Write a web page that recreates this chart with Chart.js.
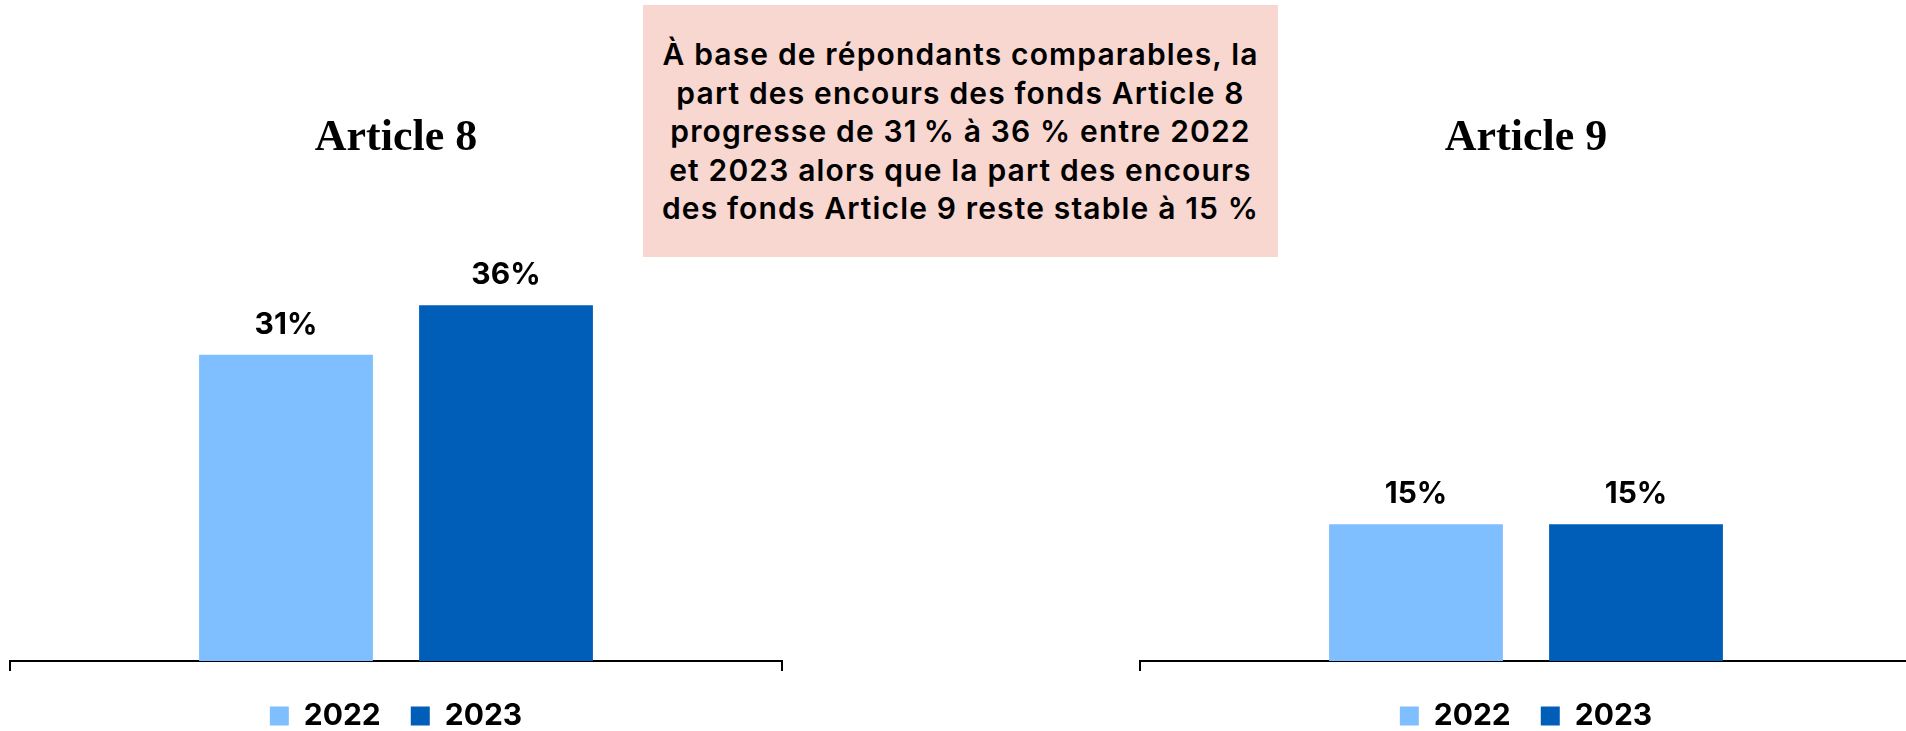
<!DOCTYPE html>
<html lang="fr">
<head>
<meta charset="utf-8">
<script src="https://cdn.jsdelivr.net/npm/chart.js@4.4.1/dist/chart.umd.min.js"></script>
<style>
    html, body { margin: 0; padding: 0; background: #fff; }
    body { width: 1906px; height: 731px; overflow: hidden; position: relative; }
    .chart-wrap { position: absolute; top: 0; width: 792px; height: 741px; }
    #wrap8 { left: 0; }
    #wrap9 { left: 1130px; }
    .note {
        position: absolute; left: 643px; top: 5px; width: 635px; height: 252px;
        box-sizing: border-box; padding-top: 30px;
        background: #f8d7d0; color: #000;
        font-family: Inter, "Noto Sans", sans-serif; font-weight: 600;
        font-size: 30px; letter-spacing: 1.15px; line-height: 38.5px; text-align: center;
        white-space: nowrap;
    }
</style>
</head>
<body>
<div class="chart-wrap" id="wrap8"><canvas id="chart_art8" width="792" height="741"></canvas></div>
<div class="chart-wrap" id="wrap9"><canvas id="chart_art9" width="792" height="741"></canvas></div>
<div class="note">À base de répondants comparables, la<br>part des encours des fonds Article 8<br>progresse de 31&#8239;% à 36 % entre 2022<br>et 2023 alors que la part des encours<br>des fonds Article 9 reste stable à 15 %</div>

<script>
// data
const years = ['2022', '2023'];
const article8 = [31, 36];
const article9 = [15, 15];

const LIGHT = '#7fbfff';
const DARK = '#005eb8';

// draws "31%" etc above each bar
const barLabels = {
    id: 'barLabels',
    afterDatasetsDraw(chart) {
        const ctx = chart.ctx;
        ctx.save();
        ctx.font = 'bold 30px Inter, sans-serif';
        ctx.fillStyle = '#000';
        ctx.textAlign = 'center';
        ctx.textBaseline = 'alphabetic';
        chart.data.datasets.forEach((ds, i) => {
            chart.getDatasetMeta(i).data.forEach((bar, j) => {
                ctx.fillText(ds.data[j] + '%', bar.x, bar.y - 21);
            });
        });
        ctx.restore();
    }
};

function makeChart(canvasId, title, values, yMax) {
    const ctx = document.getElementById(canvasId).getContext('2d');
    return new Chart(ctx, {
        type: 'bar',
        data: {
            labels: [title],
            datasets: years.map((y, i) => ({
                label: y,
                data: [values[i]],
                backgroundColor: i === 0 ? LIGHT : DARK,
                borderWidth: 0,
                categoryPercentage: 0.57,
                barPercentage: 0.79
            }))
        },
        options: {
            responsive: false,
            animation: false,
            layout: { padding: { left: 10, right: 10, top: 0, bottom: 0 } },
            scales: {
                x: {
                    ticks: { display: false },
                    grid: {
                        display: true,
                        drawOnChartArea: false,
                        drawTicks: true,
                        tickLength: 10,
                        color: '#000',
                        lineWidth: 2,
                        offset: true
                    },
                    border: { display: true, color: '#000', width: 2 }
                },
                y: { display: false, min: 0, max: yMax }
            },
            plugins: {
                title: {
                    display: true,
                    text: title,
                    color: '#000',
                    font: { family: '"Liberation Serif", serif', size: 44, weight: 'bold' },
                    padding: { top: 112, bottom: 104 }
                },
                legend: {
                    position: 'bottom',
                    labels: {
                        boxWidth: 19,
                        boxHeight: 19,
                        padding: 30,
                        color: '#000',
                        font: { family: 'Inter', size: 30, weight: 'bold' }
                    }
                },
                tooltip: { enabled: false }
            }
        },
        plugins: [barLabels]
    });
}

makeChart('chart_art8', 'Article 8', article8, 39.7);
makeChart('chart_art9', 'Article 9', article9, 43);
</script>
</body>
</html>
